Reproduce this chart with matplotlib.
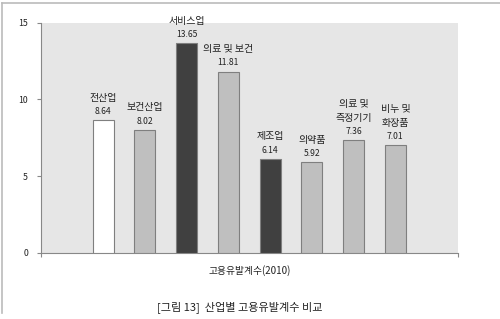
import matplotlib
matplotlib.use("Agg")
import matplotlib.pyplot as plt
from matplotlib.lines import Line2D

plt.rcParams['font.family'] = ['Noto Sans CJK KR', 'DejaVu Sans']

categories = ['전산업', '보건산업', '서비스업', '의료 및 보건', '제조업', '의약품', '의료 및\n측정기기', '비누 및\n화장품']
values = [8.64, 8.02, 13.65, 11.81, 6.14, 5.92, 7.36, 7.01]
colors = ['#ffffff', '#bfbfbf', '#404040', '#bfbfbf', '#404040', '#bfbfbf', '#bfbfbf', '#bfbfbf']
yticks = [0, 5, 10, 15]
xlabel = '고용유발계수(2010)'
caption = '[그림 13]  산업별 고용유발계수 비교'

fig = plt.figure(figsize=(5.0, 3.19), dpi=100)
ax = fig.add_axes([0.081, 0.207, 0.835, 0.722])
ax.set_facecolor('#e6e6e6')

x = list(range(len(values)))
ax.bar(x, values, width=0.5, color=colors, edgecolor='#7f7f7f', linewidth=0.8, zorder=3)

for xi, v, name in zip(x, values, categories):
    ax.annotate(f'{v:.2f}', (xi, v), xytext=(0, 3), textcoords='offset points',
                ha='center', va='bottom', fontsize=6.2, color='#222222')
    ax.annotate(name, (xi, v), xytext=(0, 12.5), textcoords='offset points',
                ha='center', va='bottom', fontsize=7.2, color='#222222', linespacing=1.45)

ax.set_xlim(-1.5, 8.5)
ax.set_ylim(0, 15)
ax.set_yticks(yticks)
ax.set_yticklabels([str(t) for t in yticks], fontsize=6.3, color='#222222')
ax.set_xticks([-1.5, 8.5])
ax.set_xticklabels(['', ''])
ax.tick_params(axis='both', direction='out', length=3, color='#888888', width=0.8)
ax.tick_params(axis='y', pad=6)
for s in ['top', 'right']:
    ax.spines[s].set_visible(False)
for s in ['left', 'bottom']:
    ax.spines[s].set_color('#888888')
    ax.spines[s].set_linewidth(0.8)

ax.set_xlabel(xlabel, fontsize=7, color='#222222', labelpad=2)

fig.text(0.48, 0.038, caption, ha='center', va='center', fontsize=8, color='#222222')

fig.add_artist(Line2D([0.004, 1.0], [0.992, 0.992], transform=fig.transFigure, color='#bbbbbb', linewidth=1.2))
fig.add_artist(Line2D([0.004, 0.004], [0.992, 0.02], transform=fig.transFigure, color='#bbbbbb', linewidth=1.2))

fig.savefig('out.png', dpi=100)
